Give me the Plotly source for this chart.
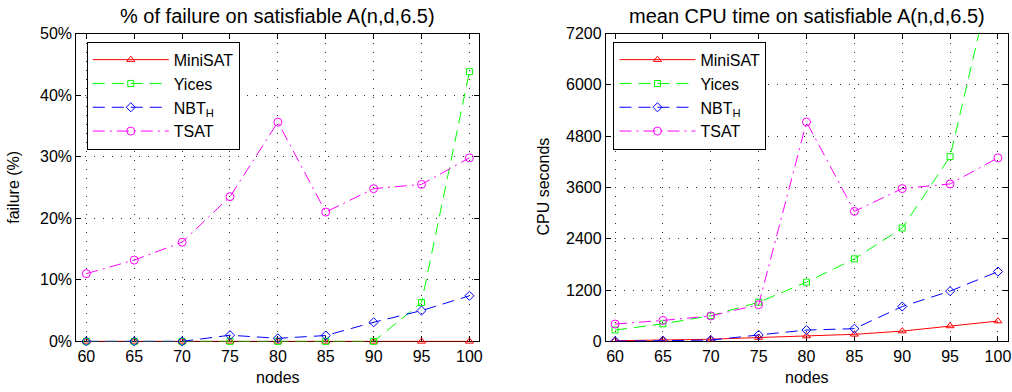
import plotly.graph_objects as go

nodes = [60, 65, 70, 75, 80, 85, 90, 95, 100]

# % of failure
fail_minisat = [0, 0, 0, 0, 0, 0, 0, 0, 0]
fail_yices = [0, 0, 0, 0, 0, 0, 0, 6.3, 43.8]
fail_nbt = [0, 0, 0, 1.0, 0.5, 0.95, 3.1, 5.0, 7.4]
fail_tsat = [11.0, 13.2, 16.1, 23.5, 35.6, 21.0, 24.8, 25.5, 29.8]

# mean CPU time (seconds)
cpu_minisat = [15, 30, 50, 90, 125, 165, 240, 360, 475]
cpu_yices = [265, 410, 600, 915, 1385, 1930, 2650, 4320, 9100]
cpu_nbt = [5, 15, 30, 150, 265, 297, 815, 1175, 1632]
cpu_tsat = [405, 490, 595, 858, 5130, 3040, 3573, 3682, 4292]

fail_ticks = [0, 10, 20, 30, 40, 50]
fail_ticktext = ["0%", "10%", "20%", "30%", "40%", "50%"]
cpu_ticks = [0, 1200, 2400, 3600, 4800, 6000, 7200]

names = ["MiniSAT", "Yices", "NBT<sub>H</sub>", "TSAT"]
colors = ["#ff0000", "#00ff00", "#0000ff", "#ff00ff"]
dashes = ["solid", "12px,7px", "12px,7px", "12px,5px,2px,5px"]
symbols = ["triangle-up-open", "square-open", "diamond-open", "circle-open"]
msizes = [7, 6, 7, 8]

FONT = "Liberation Sans, Arial, Helvetica, sans-serif"

fig = go.Figure()

fail_series = [fail_minisat, fail_yices, fail_nbt, fail_tsat]
cpu_series = [cpu_minisat, cpu_yices, cpu_nbt, cpu_tsat]

for i in range(4):
    fig.add_trace(go.Scatter(
        x=nodes, y=fail_series[i], name=names[i], mode="lines+markers",
        line=dict(color=colors[i], width=1, dash=dashes[i]),
        marker=dict(symbol=symbols[i], size=msizes[i], color=colors[i],
                    line=dict(width=1, color=colors[i])),
        xaxis="x", yaxis="y", legend="legend", cliponaxis=False,
    ))
for i in range(4):
    fig.add_trace(go.Scatter(
        x=nodes, y=cpu_series[i], name=names[i], mode="lines+markers",
        line=dict(color=colors[i], width=1, dash=dashes[i]),
        marker=dict(symbol=symbols[i], size=msizes[i], color=colors[i],
                    line=dict(width=1, color=colors[i])),
        xaxis="x2", yaxis="y2", legend="legend2", cliponaxis=True,
    ))

axis_common = dict(
    showline=True, linecolor="black", linewidth=1, mirror="ticks",
    ticks="inside", ticklen=5, tickcolor="black", tickwidth=1,
    showgrid=True, gridcolor="#333333", gridwidth=1, griddash="1px,8px",
    zeroline=False, tickfont=dict(family=FONT, size=16, color="black"),
    layer="below traces",
)

ydom = [0.111, 0.932]
legend_common = dict(xanchor="left", yanchor="top", bgcolor="white",
                     bordercolor="black", borderwidth=1,
                     font=dict(family=FONT, size=16, color="black"), itemwidth=76)
fig.update_layout(
    width=1012, height=392,
    margin=dict(l=0, r=0, t=0, b=0),
    paper_bgcolor="white", plot_bgcolor="white",
    font=dict(family=FONT, color="black"),
    xaxis=dict(domain=[0.0756, 0.4752], range=[58.95, 101.05], tickvals=nodes,
               anchor="y", **axis_common),
    yaxis=dict(domain=ydom, range=[0, 50], tickvals=fail_ticks, ticktext=fail_ticktext,
               anchor="x", **axis_common),
    xaxis2=dict(domain=[0.6004, 0.9990], range=[59.03, 101.05], tickvals=nodes,
                anchor="y2", **axis_common),
    yaxis2=dict(domain=ydom, range=[0, 7200], tickvals=cpu_ticks,
                anchor="x2", **axis_common),
    legend=dict(x=0.086, y=0.910, **legend_common),
    legend2=dict(x=0.608, y=0.910, **legend_common),
    showlegend=True,
)

annots = [
    dict(text="% of failure on satisfiable A(n,d,6.5)", x=0.2754, y=0.978, size=20, angle=0),
    dict(text="mean CPU time on satisfiable A(n,d,6.5)", x=0.7997, y=0.978, size=20, angle=0),
    dict(text="nodes", x=0.2754, y=0.014, size=16, angle=0),
    dict(text="nodes", x=0.7997, y=0.014, size=16, angle=0),
    dict(text="failure (%)", x=0.0138, y=0.523, size=16, angle=-90),
    dict(text="CPU seconds", x=0.5388, y=0.523, size=16, angle=-90),
]
for a in annots:
    fig.add_annotation(text=a["text"], x=a["x"], y=a["y"], xref="paper", yref="paper",
                       xanchor="center", yanchor="middle", showarrow=False,
                       textangle=a["angle"], font=dict(family=FONT, size=a["size"], color="black"))

fig.write_html("out.html")
